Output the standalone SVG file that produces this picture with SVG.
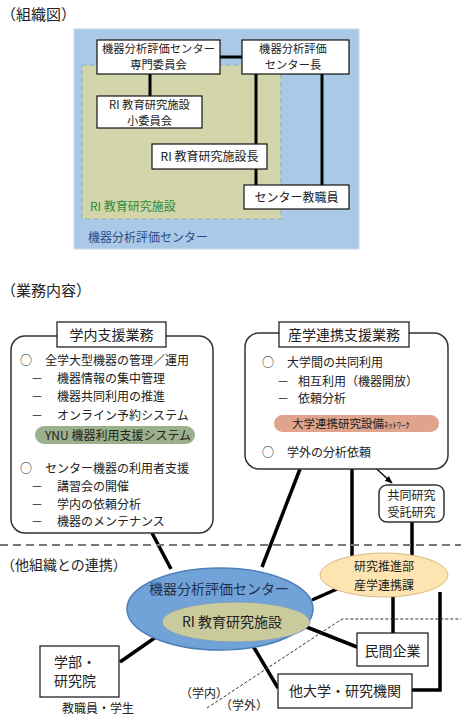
<svg xmlns="http://www.w3.org/2000/svg" width="461" height="717" viewBox="0 0 461 717">
<defs>
<style>
text{font-family:"Noto Sans CJK JP","Noto Sans CJK SC",sans-serif;fill:#222;}
.t12{font-size:12px;}
.t11{font-size:11.5px;}
.b11{font-size:11.3px;}
.t14{font-size:14px;}
.t15{font-size:15px;}
.mid{text-anchor:middle;}
.box{fill:#fff;stroke:#111;stroke-width:1.2;}
.rbox{fill:#fff;stroke:#333;stroke-width:1.5;}
.thick{stroke:#000;stroke-width:3.5;fill:none;}
.thick3{stroke:#000;stroke-width:3;fill:none;}
</style>
<marker id="ah" viewBox="0 0 10 10" refX="9" refY="5" markerWidth="6" markerHeight="6" orient="auto-start-reverse">
<path d="M0,1 L10,5 L0,9 z" fill="#000"/>
</marker>
</defs>
<rect width="461" height="717" fill="#fff"/>

<!-- Section 1: organisation chart -->
<text class="t15" x="1" y="20">（組織図）</text>
<g id="center-area">
<rect x="74" y="29" width="285" height="220" fill="#a9c9e7" stroke="#c5d9ec" stroke-width="1"/>
<text class="t12" x="88" y="242" style="fill:#2b4c8c">機器分析評価センター</text>
</g>
<g id="ri-area">
<rect x="82" y="65" width="199" height="154" fill="#d3d6ab" stroke="#86b4c4" stroke-width="1.2" stroke-dasharray="5 3"/>
<text class="t12" x="90" y="211" style="fill:#2f8a3a">RI 教育研究施設</text>
</g>

<g id="connectors-org">
<line class="thick3" x1="220" y1="57" x2="242" y2="57"/>
<line class="thick3" x1="150" y1="74" x2="150" y2="96"/>
<line class="thick3" x1="256" y1="74" x2="256" y2="144"/>
<line class="thick3" x1="256" y1="169" x2="256" y2="185"/>
<line class="thick3" x1="322" y1="74" x2="322" y2="185"/>
</g>

<g id="committee">
<rect class="box" x="97" y="40" width="123" height="34"/>
<text class="b11 mid" x="158.5" y="53">機器分析評価センター</text>
<text class="b11 mid" x="158.5" y="69">専門委員会</text>
</g>
<g id="director">
<rect class="box" x="242" y="40" width="107" height="34"/>
<text class="b11 mid" x="293" y="53">機器分析評価</text>
<text class="b11 mid" x="293" y="69">センター長</text>
</g>
<g id="subcommittee">
<rect class="box" x="97" y="96" width="105" height="32"/>
<text class="b11 mid" x="149.5" y="109">RI 教育研究施設</text>
<text class="b11 mid" x="149.5" y="124.5">小委員会</text>
</g>
<g id="ri-head">
<rect class="box" x="152" y="144" width="115" height="25"/>
<text class="t12 mid" x="209.5" y="161">RI 教育研究施設長</text>
</g>
<g id="staff">
<rect class="box" x="244" y="185" width="105" height="24"/>
<text class="t12 mid" x="296.5" y="202">センター教職員</text>
</g>

<!-- Section 2 -->
<text class="t15" x="1" y="296">（業務内容）</text>

<g id="connectors">
<line class="thick" x1="152" y1="533" x2="171" y2="569"/>
<line class="thick" x1="300" y1="469" x2="262" y2="567"/>
<line class="thick" x1="352" y1="469" x2="352" y2="556"/>
<line class="thick" x1="412" y1="522" x2="412" y2="556"/>
<line class="thick" x1="312" y1="600" x2="337" y2="589"/>
<line class="thick" x1="393" y1="595" x2="393" y2="633"/>
<polyline class="thick" points="440,592 440,690 412,690"/>
<line class="thick" x1="304" y1="626" x2="357" y2="647"/>
<line class="thick" x1="253" y1="646" x2="278" y2="688"/>
<line class="thick" x1="120" y1="662" x2="156" y2="637"/>
<line x1="368" y1="461" x2="392" y2="483" stroke="#000" stroke-width="1.3" marker-start="url(#ah)" marker-end="url(#ah)"/>
<line x1="0" y1="545" x2="461" y2="545" stroke="#777" stroke-width="2" stroke-dasharray="8 5"/>
<polyline points="207,708 342,619 461,619" fill="none" stroke="#333" stroke-width="1" stroke-dasharray="3 2"/>
</g>

<g id="internal-support">
<rect class="rbox" x="11" y="336" width="202" height="197" rx="14"/>
<rect class="box" x="57" y="322" width="109" height="25"/>
<text class="t14 mid" x="111.5" y="340">学内支援業務</text>
<text class="t12" x="20" y="365">○</text>
<text class="t12" x="45" y="365">全学大型機器の管理／運用</text>
<text class="t12" x="31" y="383">－</text>
<text class="t12" x="57" y="383">機器情報の集中管理</text>
<text class="t12" x="31" y="401">－</text>
<text class="t12" x="57" y="401">機器共同利用の推進</text>
<text class="t12" x="31" y="420">－</text>
<text class="t12" x="57" y="420">オンライン予約システム</text>
<rect x="35" y="426" width="160" height="18" rx="9" fill="#9cb08c"/>
<text class="t12" x="45" y="440">YNU 機器利用支援システム</text>
<text class="t12" x="20" y="473">○</text>
<text class="t12" x="45" y="473">センター機器の利用者支援</text>
<text class="t12" x="31" y="491">－</text>
<text class="t12" x="57" y="491">講習会の開催</text>
<text class="t12" x="31" y="509">－</text>
<text class="t12" x="57" y="509">学内の依頼分析</text>
<text class="t12" x="31" y="526">－</text>
<text class="t12" x="57" y="526">機器のメンテナンス</text>
</g>

<g id="industry-support">
<rect class="rbox" x="245" y="333" width="203" height="136" rx="14"/>
<rect class="box" x="279" y="322" width="130" height="25"/>
<text class="t14 mid" x="344" y="340">産学連携支援業務</text>
<text class="t12" x="262" y="367">○</text>
<text class="t12" x="287" y="367">大学間の共同利用</text>
<text class="t12" x="277" y="386">－</text>
<text class="t12" x="298" y="386">相互利用（機器開放）</text>
<text class="t12" x="277" y="403">－</text>
<text class="t12" x="298" y="403">依頼分析</text>
<rect x="274" y="415" width="165" height="17" rx="8.5" fill="#e0a48d"/>
<text x="292" y="428"><tspan class="t11">大学連携研究設備</tspan><tspan style="font-size:8.5px">ﾈｯﾄﾜｰｸ</tspan></text>
<text class="t12" x="262" y="457">○</text>
<text class="t12" x="287" y="457">学外の分析依頼</text>
</g>

<g id="joint-research">
<rect class="rbox" x="379" y="485" width="65" height="37" rx="8"/>
<text class="t12 mid" x="411.5" y="500">共同研究</text>
<text class="t12 mid" x="411.5" y="517">受託研究</text>
</g>

<text class="t14" x="1" y="570">（他組織との連携）</text>

<g id="research-promotion">
<ellipse cx="384" cy="575" rx="64" ry="22" fill="#fde4b0" stroke="#d9b983" stroke-width="1"/>
<text class="t12 mid" x="384" y="571">研究推進部</text>
<text class="t12 mid" x="384" y="590">産学連携課</text>
</g>

<g id="center-ellipse">
<ellipse cx="220" cy="609" rx="93" ry="41" fill="#72a3d8" stroke="#4d7fb8" stroke-width="1.5"/>
<text class="t14 mid" x="219" y="594" style="fill:#1f3050">機器分析評価センター</text>
<ellipse cx="236" cy="622" rx="74" ry="20" fill="#c9cb9d" stroke="#7f9fbf" stroke-width="1"/>
<text class="t14 mid" x="232" y="627">RI 教育研究施設</text>
</g>

<g id="company">
<rect class="box" x="357" y="633" width="71" height="33"/>
<text class="t14 mid" x="392.5" y="656">民間企業</text>
</g>
<g id="other-univ">
<rect class="box" x="278" y="674" width="134" height="34"/>
<text class="t14 mid" x="345" y="696">他大学・研究機関</text>
</g>
<g id="faculty">
<rect class="box" x="40" y="646" width="79" height="51"/>
<text class="t14" x="54" y="667">学部・</text>
<text class="t14" x="54" y="686">研究院</text>
<text class="t12" x="62" y="713">教職員・学生</text>
</g>
<text class="t12" x="180" y="698">（学内）</text>
<text class="t12" x="220" y="710">（学外）</text>
</svg>
